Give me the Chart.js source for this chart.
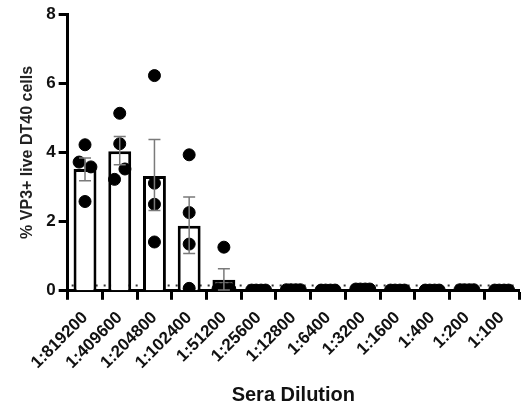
<!DOCTYPE html>
<html>
<head>
<meta charset="utf-8">
<script src="https://cdn.jsdelivr.net/npm/chart.js@4"></script>
<style>
  html, body { margin: 0; padding: 0; background: #fff; }
  #wrap { width: 526px; height: 409px; }
</style>
</head>
<body>
<div id="wrap"><canvas id="chart" width="526" height="409"></canvas></div>
<script>
const dilutions = ["1:819200", "1:409600", "1:204800", "1:102400", "1:51200", "1:25600",
  "1:12800", "1:6400", "1:3200", "1:1600", "1:400", "1:200", "1:100"];
const means = [3.52, 4.03, 3.32, 1.88, 0.32, 0.02, 0.02, 0.02, 0.03, 0.02, 0.02, 0.02, 0.02];
const semUp = [3.84, 4.46, 4.37, 2.71, 0.64, 0, 0, 0, 0, 0, 0, 0, 0];
const semDown = [3.18, 3.64, 2.32, 1.08, 0.02, 0, 0, 0, 0, 0, 0, 0, 0];
const threshold = 0.15;

// individual animals: category index, horizontal spread, value
const pointGroup = [0, 0, 0, 0, 1, 1, 1, 1, 2, 2, 2, 2, 3, 3, 3, 3, 4, 4, 4, 4,
  5, 5, 5, 5, 6, 6, 6, 6, 7, 7, 7, 7, 8, 8, 8, 8, 9, 9, 9, 9, 10, 10, 10, 10, 11, 11, 11, 11, 12, 12, 12, 12];
const pointSpread = [0, -0.17, 0.17, 0, 0, 0, 0.15, -0.15, 0, 0, 0, 0, 0, 0, 0, 0, 0, -0.17, 0, 0.17,
  -0.2, -0.07, 0.07, 0.2, -0.2, -0.07, 0.07, 0.2, -0.2, -0.07, 0.07, 0.2, -0.2, -0.07, 0.07, 0.2,
  -0.2, -0.07, 0.07, 0.2, -0.2, -0.07, 0.07, 0.2, -0.2, -0.07, 0.07, 0.2, -0.2, -0.07, 0.07, 0.2];
const pointValues = [4.22, 3.72, 3.58, 2.58, 5.13, 4.25, 3.52, 3.22, 6.22, 3.11, 2.5, 1.41,
  3.93, 2.26, 1.35, 0.07, 1.26, 0.05, 0.05, 0.05,
  0.02, 0.02, 0.02, 0.02, 0.03, 0.03, 0.03, 0.03, 0.02, 0.02, 0.02, 0.02, 0.05, 0.05, 0.05, 0.05,
  0.02, 0.02, 0.02, 0.02, 0.02, 0.02, 0.02, 0.02, 0.03, 0.03, 0.03, 0.03, 0.02, 0.02, 0.02, 0.02];
const yTicks = [0, 2, 4, 6, 8];

const FONT = "'Liberation Sans', Arial, sans-serif";

const extras = {
  id: "extras",
  beforeDatasetsDraw(chart) {
    const ctx = chart.ctx;
    const y = chart.scales.y;
    // dotted threshold line
    ctx.save();
    ctx.strokeStyle = "#333";
    ctx.lineWidth = 2;
    ctx.setLineDash([2, 6]);
    ctx.beginPath();
    ctx.moveTo(chart.chartArea.left + 4, y.getPixelForValue(threshold));
    ctx.lineTo(chart.chartArea.right, y.getPixelForValue(threshold));
    ctx.stroke();
    ctx.restore();
  },
  afterDatasetsDraw(chart) {
    const ctx = chart.ctx;
    const x = chart.scales.x;
    const y = chart.scales.y;
    ctx.save();
    ctx.strokeStyle = "#7a7a7a";
    ctx.lineWidth = 1.5;
    means.forEach((m, i) => {
      if (semUp[i] === 0) return;
      const cx = x.getPixelForValue(i);
      const yt = y.getPixelForValue(semUp[i]);
      const yb = y.getPixelForValue(semDown[i]);
      ctx.beginPath();
      ctx.moveTo(cx, yt); ctx.lineTo(cx, yb);
      ctx.moveTo(cx - 6, yt); ctx.lineTo(cx + 6, yt);
      ctx.moveTo(cx - 6, yb); ctx.lineTo(cx + 6, yb);
      ctx.stroke();
    });
    ctx.restore();
  }
};

new Chart(document.getElementById("chart"), {
  data: {
    labels: dilutions,
    datasets: [
      {
        type: "scatter",
        xAxisID: "xs",
        data: pointValues.map((v, i) => ({ x: pointGroup[i] + pointSpread[i], y: v })),
        backgroundColor: "#000",
        borderColor: "#000",
        pointRadius: 6,
        order: 0
      },
      {
        type: "bar",
        data: means,
        backgroundColor: "#fff",
        borderColor: "#000",
        borderWidth: 3,
        grouped: false,
        barPercentage: 0.66,
        categoryPercentage: 1,
        order: 1
      }
    ]
  },
  options: {
    responsive: false,
    animation: false,
    layout: { padding: { top: 14, right: 3, left: 14, bottom: 0 } },
    plugins: { legend: { display: false }, tooltip: { enabled: false } },
    scales: {
      x: {
        type: "category",
        offset: true,
        grid: { display: true, drawOnChartArea: false, tickLength: 9, tickWidth: 3, tickColor: "#000" },
        border: { color: "#000", width: 3 },
        ticks: {
          color: "#111",
          font: { family: FONT, size: 17, weight: "bold" },
          minRotation: 45,
          maxRotation: 45,
          autoSkip: false,
          padding: 8
        },
        title: {
          display: true,
          text: "Sera Dilution",
          color: "#111",
          font: { family: FONT, size: 20, weight: "bold" },
          padding: { top: 2, bottom: 2 }
        }
      },
      xs: {
        type: "linear",
        display: false,
        min: -0.5,
        max: 12.5
      },
      y: {
        min: 0,
        max: 8,
        afterBuildTicks(scale) { scale.ticks = yTicks.map((v) => ({ value: v })); },
        grid: { display: true, drawOnChartArea: false, tickLength: 9, tickWidth: 3, tickColor: "#000" },
        border: { color: "#000", width: 3 },
        ticks: {
          color: "#111",
          font: { family: FONT, size: 17, weight: "bold" },
          padding: 3
        },
        title: {
          display: true,
          text: "% VP3+ live DT40 cells",
          color: "#222",
          font: { family: FONT, size: 16, weight: "bold" },
          padding: { bottom: 6 }
        }
      }
    }
  },
  plugins: [extras]
});
</script>
</body>
</html>
